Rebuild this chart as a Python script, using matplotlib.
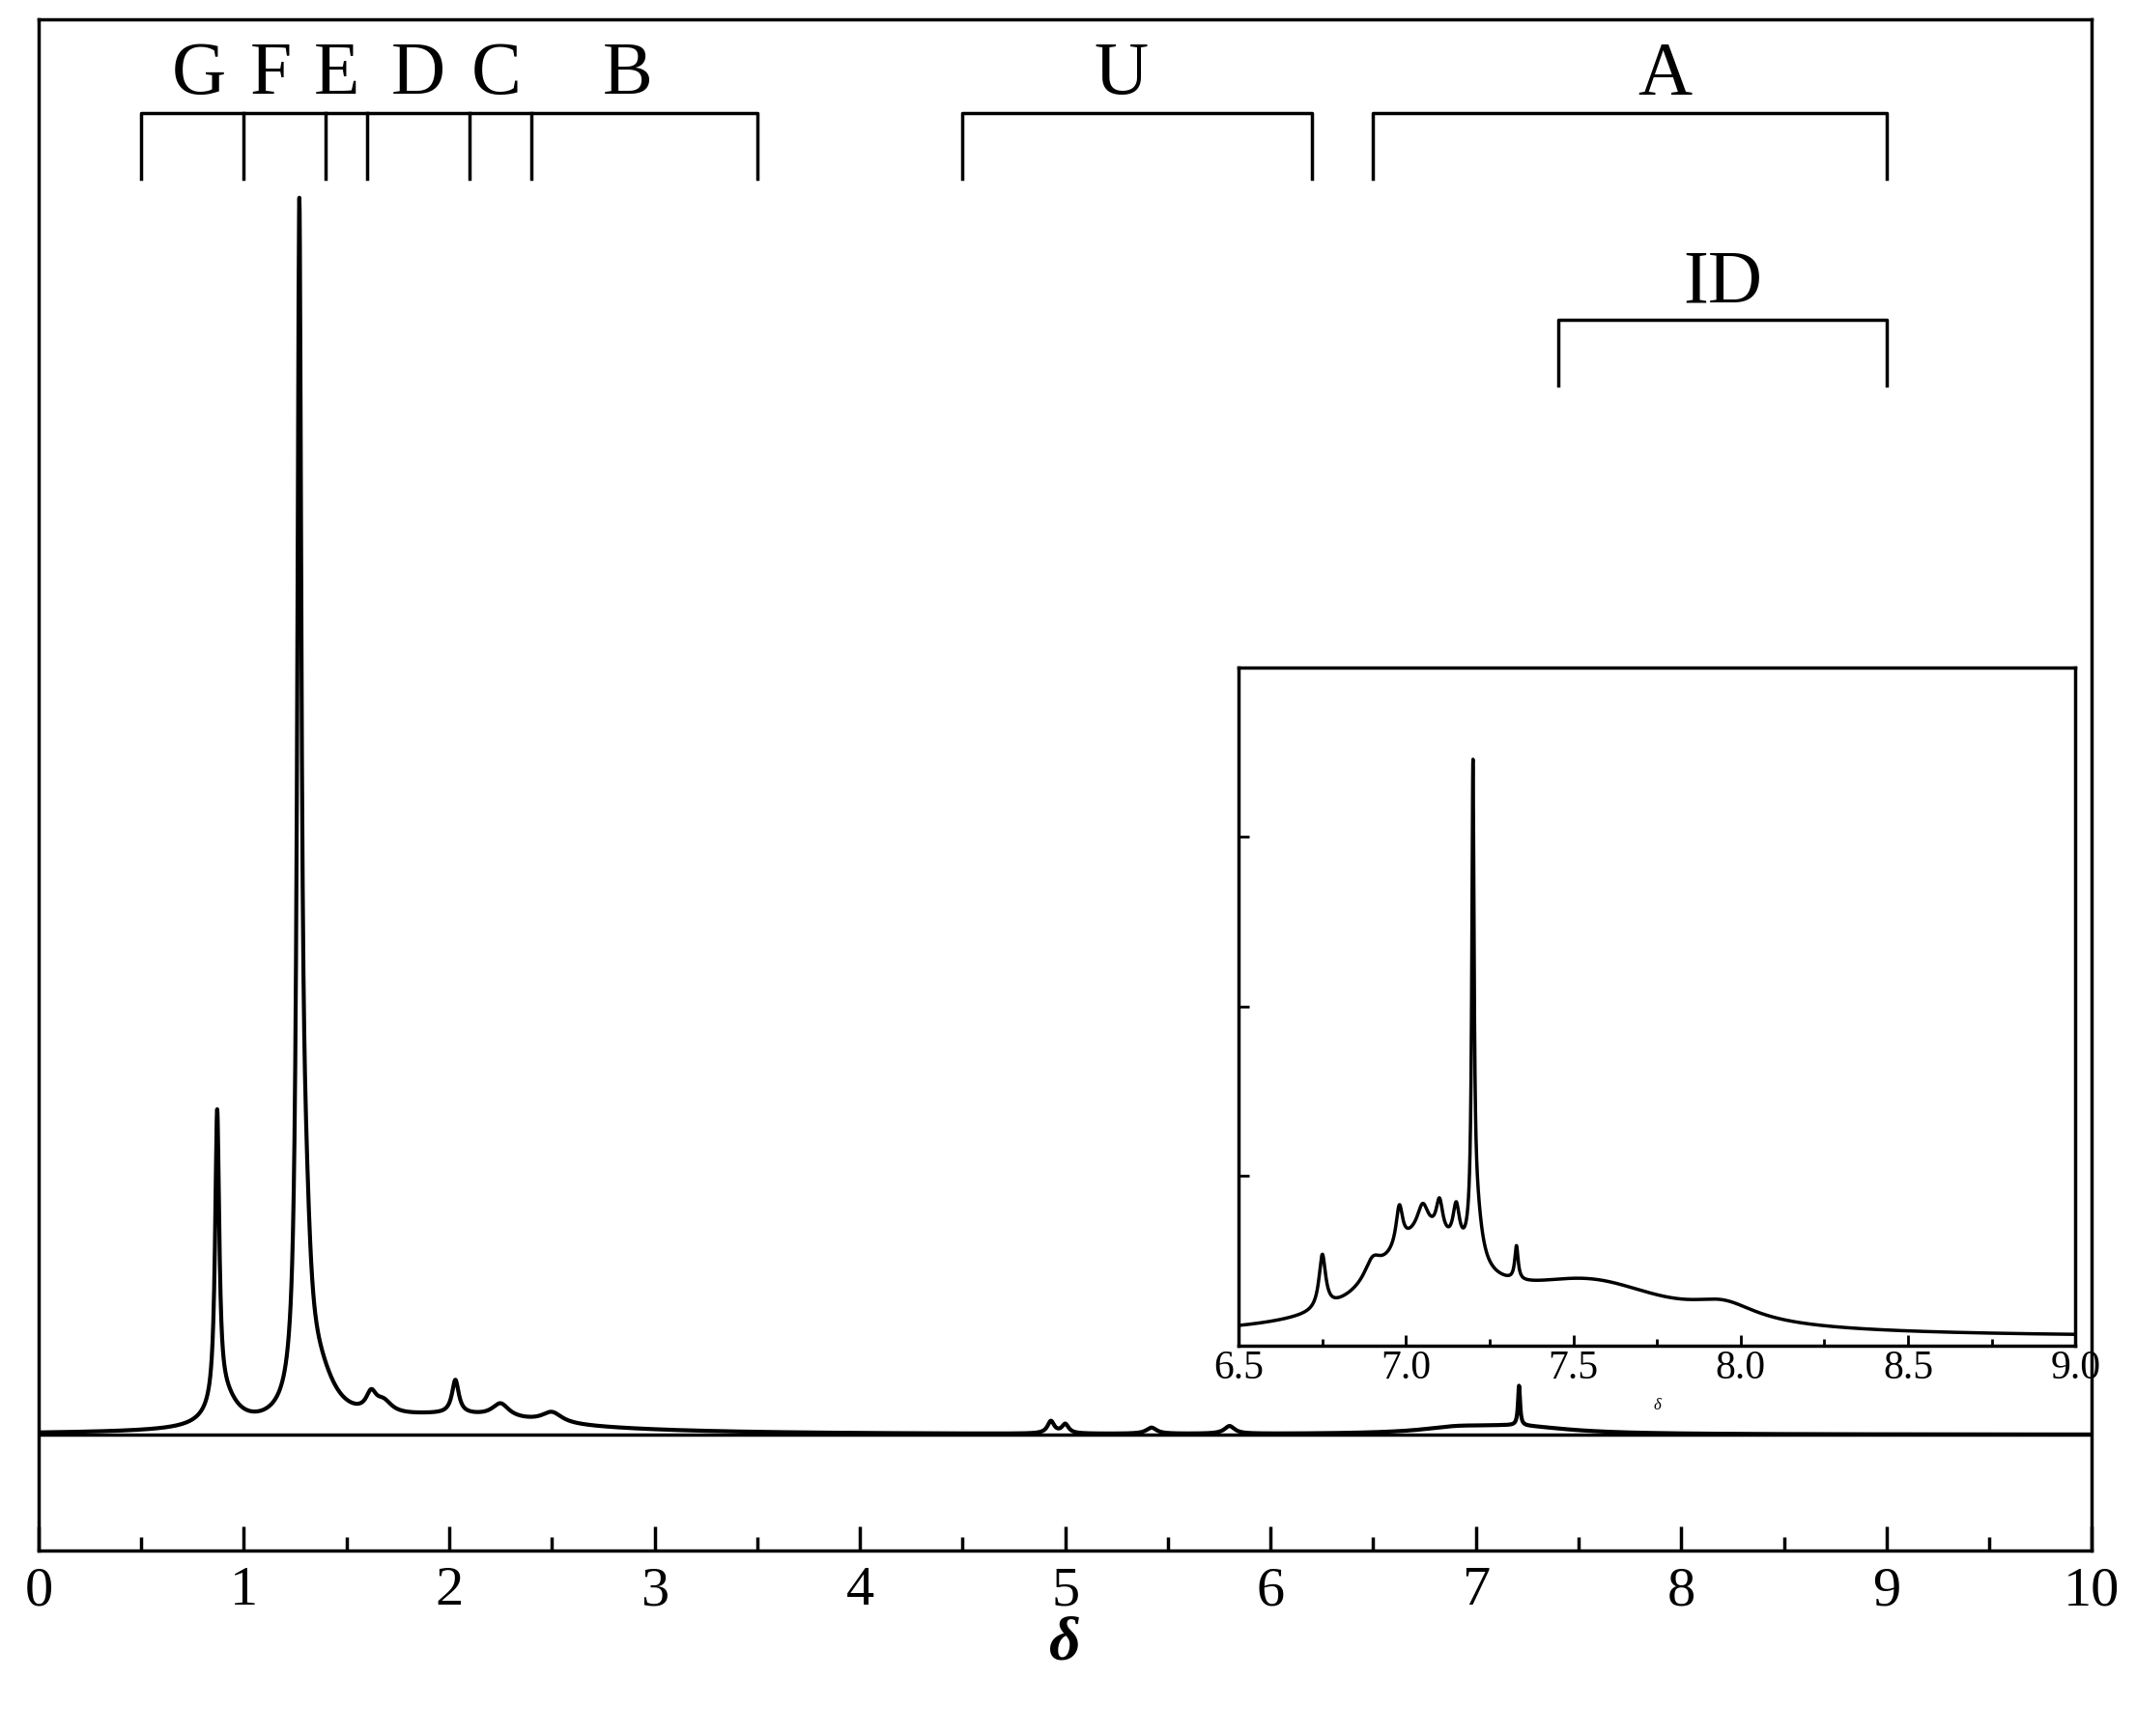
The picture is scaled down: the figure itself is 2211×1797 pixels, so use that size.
import numpy as np
import matplotlib
matplotlib.use("Agg")
import matplotlib.pyplot as plt

plt.rcParams['font.family'] = ['Liberation Serif', 'DejaVu Serif']

# Main spectrum peaks: position, height, half-width
main_pos = [0.87, 0.90, 1.27, 1.30, 1.36, 1.62, 1.68, 2.03, 2.25, 2.50, 2.0, 4.93, 5.0, 5.42, 5.80, 7.21, 7.2, 6.9]
main_h   = [0.19, 0.02, 0.74, 0.09, 0.03, 0.012, 0.008, 0.022, 0.009, 0.007, 0.012, 0.008, 0.006, 0.004, 0.005, 0.026, 0.005, 0.003]
main_w   = [0.012, 0.08, 0.012, 0.03, 0.10, 0.03, 0.05, 0.02, 0.05, 0.06, 0.6, 0.02, 0.02, 0.03, 0.03, 0.006, 0.3, 0.2]
main_base = 0.0755

# Inset spectrum peaks (aromatic region)
ins_pos = [6.75, 6.90, 6.98, 7.05, 7.10, 7.15, 7.20, 7.21, 7.33, 7.05, 7.55, 7.95]
ins_h   = [0.08, 0.03, 0.06, 0.04, 0.05, 0.06, 0.68, 0.08, 0.05, 0.13, 0.07, 0.025]
ins_w   = [0.012, 0.03, 0.012, 0.02, 0.012, 0.012, 0.004, 0.02, 0.006, 0.17, 0.3, 0.12]
ins_base = 0.012

def spectrum(x, pos, h, w, base):
    y = np.full_like(x, base)
    for p, a, g in zip(pos, h, w):
        y += a * g**2 / ((x - p)**2 + g**2)
    return y

fig = plt.figure(figsize=(22.11, 17.97), dpi=100)
ax = fig.add_axes([28/1552, 1-1127/1262, 1492/1552, 1113/1262])
x = np.linspace(0, 10, 8000)
ax.plot(x, spectrum(x, main_pos, main_h, main_w, main_base), color='black', lw=3)
ax.axhline(main_base, color='black', lw=2.5)
ax.set_xlim(0, 10); ax.set_ylim(0, 1)
ax.set_xticks(range(11))
ax.set_xticks(np.arange(0.5, 10, 1), minor=True)
ax.set_yticks([])
ax.tick_params(axis='x', direction='in', length=18, width=2.5, labelsize=42, pad=12)
ax.tick_params(axis='x', which='minor', direction='in', length=10, width=2.5)
for s in ax.spines.values(): s.set_linewidth(2.5)
ax.set_xlabel('δ', fontsize=46, fontweight='bold', style='italic', labelpad=0)

def bracket(x0, x1, ytop, ybot, inner=()):
    ax.plot([x0, x0, x1, x1], [ybot, ytop, ytop, ybot], color='black', lw=2.5)
    for xi in inner:
        ax.plot([xi, xi], [ybot, ytop], color='black', lw=2.5)

bracket(0.5, 3.5, 0.939, 0.896, inner=[1.0, 1.4, 1.6, 2.1, 2.4])
bracket(4.5, 6.2, 0.939, 0.896)
bracket(6.5, 9.0, 0.939, 0.896)
bracket(7.4, 9.0, 0.804, 0.761)
labels = ['G', 'F', 'E', 'D', 'C', 'B', 'U', 'A']
label_x = [0.78, 1.13, 1.45, 1.85, 2.23, 2.87, 5.27, 7.92]
for t, xx in zip(labels, label_x):
    ax.text(xx, 0.963, t, fontsize=56, ha='center', va='center')
ax.text(8.2, 0.827, 'ID', fontsize=56, ha='center', va='center')

ins = fig.add_axes([900/1552, 1-978/1262, 608/1552, 493/1262])
xi = np.linspace(6.5, 9.0, 5000)
ins.plot(xi, spectrum(xi, ins_pos, ins_h, ins_w, ins_base), color='black', lw=2.5)
ins.set_xlim(6.5, 9.0); ins.set_ylim(0, 1)
ins.set_xticks(np.arange(6.5, 9.01, 0.5))
ins.set_xticks(np.arange(6.75, 9.0, 0.5), minor=True)
ins.set_yticks([0.25, 0.5, 0.75]); ins.set_yticklabels([])
ins.tick_params(direction='in', length=8, width=2, labelsize=30)
ins.tick_params(which='minor', direction='in', length=5, width=2)
for s in ins.spines.values(): s.set_linewidth(2.5)
ins.set_xlabel('δ', fontsize=12, style='italic', labelpad=8)

fig.savefig('out.png', dpi=100)
